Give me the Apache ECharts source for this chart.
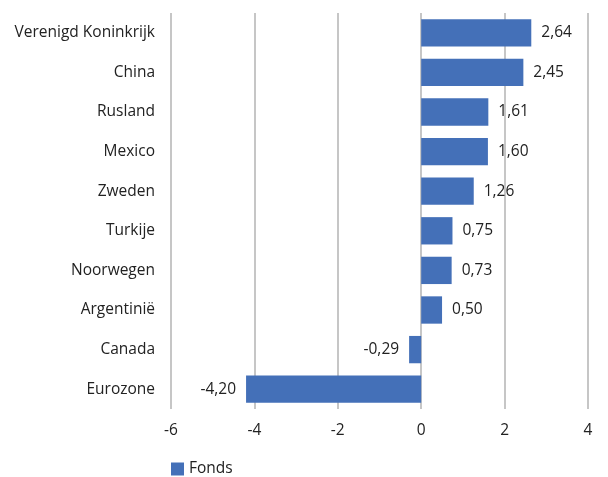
<!DOCTYPE html>
<html>
<head>
<meta charset="utf-8">
<script src="https://cdn.jsdelivr.net/npm/echarts@6/dist/echarts.min.js"></script>
<style>
  html, body { margin: 0; padding: 0; background: #fff; }
  #chart { width: 608px; height: 477px; }
</style>
</head>
<body>
<div id="chart"></div>
<script>
// Countries, listed top to bottom
const categories = ['Verenigd Koninkrijk', 'China', 'Rusland', 'Mexico', 'Zweden', 'Turkije', 'Noorwegen', 'Argentinië', 'Canada', 'Eurozone'];
const fondsValues = [2.64, 2.45, 1.61, 1.60, 1.26, 0.75, 0.73, 0.50, -0.29, -4.20];
const xTicks = [-6, -4, -2, 0, 2, 4];
const seriesName = 'Fonds';

const FONT = '"Open Sans", "Noto Sans", sans-serif';
const TEXT = '#222222';
const SIZE = 15.5;

const chart = echarts.init(document.getElementById('chart'), null, { renderer: 'canvas' });

chart.setOption({
  animation: false,
  textStyle: { fontFamily: FONT },
  grid: { left: 171, right: 20, top: 13, bottom: 68, containLabel: false },
  legend: {
    data: [seriesName],
    left: 166, top: 456,
    itemWidth: 13, itemHeight: 13, itemGap: 8,
    icon: 'rect',
    textStyle: { fontFamily: FONT, fontSize: SIZE, color: TEXT }
  },
  xAxis: {
    type: 'value',
    min: xTicks[0], max: xTicks[xTicks.length - 1], interval: 2,
    axisLine: { show: false },
    axisTick: { show: false },
    splitLine: { show: true, lineStyle: { color: '#b3b3b3', width: 1.5 } },
    axisLabel: { fontFamily: FONT, fontSize: SIZE, color: TEXT, margin: 14 }
  },
  yAxis: {
    type: 'category',
    data: categories,
    inverse: true,
    axisLine: { show: false },
    axisTick: { show: false },
    axisLabel: { fontFamily: FONT, fontSize: SIZE, color: TEXT, margin: 16 }
  },
  series: [{
    name: seriesName,
    type: 'bar',
    data: fondsValues.map(v => ({
      value: v,
      label: { position: v < 0 ? 'left' : 'right' }
    })),
    barWidth: '69%',
    itemStyle: { color: '#4470B8' },
    label: {
      show: true,
      distance: 10,
      fontFamily: FONT, fontSize: SIZE, color: TEXT,
      formatter: p => p.value.toFixed(2).replace('.', ',')
    }
  }]
});
</script>
</body>
</html>
